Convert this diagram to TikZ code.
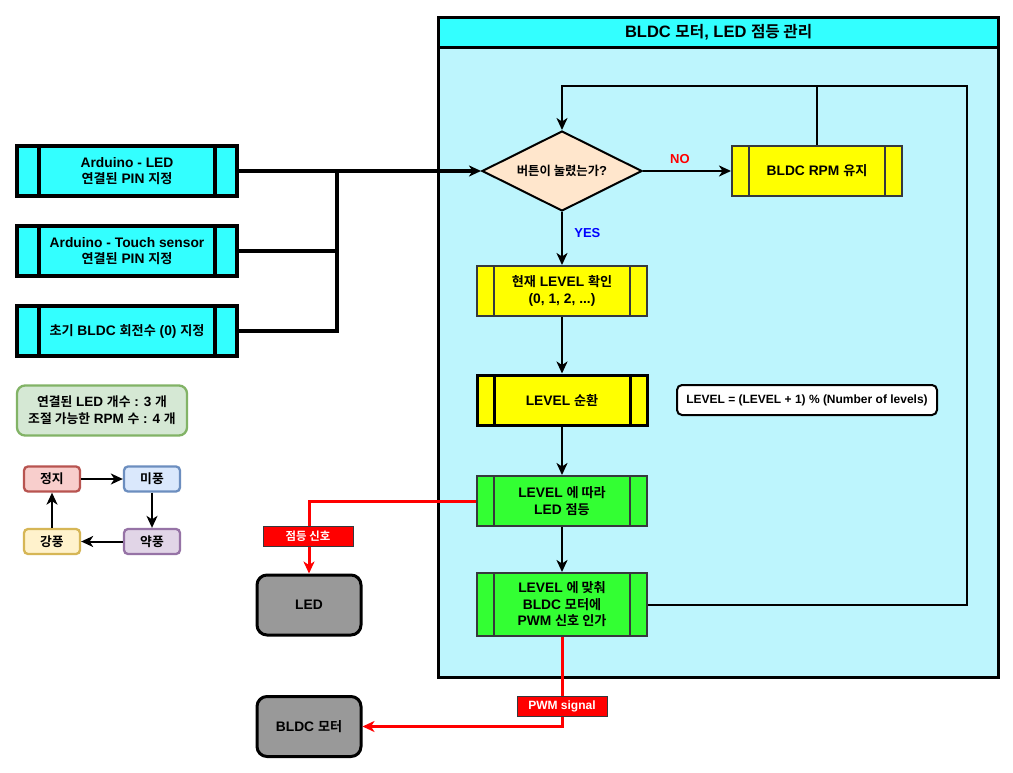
\documentclass[tikz,border=0pt]{standalone}
\usepackage{fontspec}
\setmainfont{Liberation Sans}
\newfontfamily\kr[Scale=0.95,BoldFont={Noto Sans CJK KR Bold}]{Noto Sans CJK KR}
\usetikzlibrary{arrows.meta,calc,shapes.geometric}
\newcommand\K[1]{{\kr #1}}
\definecolor{cy}{HTML}{33FFFF}
\definecolor{lcy}{HTML}{BDF5FD}
\definecolor{yel}{HTML}{FFFF00}
\definecolor{grn}{HTML}{33FF33}
\definecolor{peach}{HTML}{FFE6CC}
\definecolor{dgray}{HTML}{36393D}
\definecolor{mgray}{HTML}{999999}
\definecolor{rd}{HTML}{FF0000}
\definecolor{lgf}{HTML}{D5E8D4}\definecolor{lgd}{HTML}{82B366}
\definecolor{rf}{HTML}{F8CECC}\definecolor{rdd}{HTML}{B85450}
\definecolor{bf}{HTML}{DAE8FC}\definecolor{bd}{HTML}{6C8EBF}
\definecolor{pf}{HTML}{E1D5E7}\definecolor{pd}{HTML}{9673A6}
\definecolor{yf}{HTML}{FFF2CC}\definecolor{yd}{HTML}{D6B656}
\newcommand\innerlines[2]{\draw[#1,line width=#2]
 ($(path picture bounding box.north west)!0.1!(path picture bounding box.north east)$) --
 ($(path picture bounding box.south west)!0.1!(path picture bounding box.south east)$)
 ($(path picture bounding box.north west)!0.9!(path picture bounding box.north east)$) --
 ($(path picture bounding box.south west)!0.9!(path picture bounding box.south east)$);}
\tikzset{
 x=1pt, y=-1pt,
 txt/.style={font=\bfseries\fontsize{13.8}{16.5}\selectfont, align=center, inner sep=0pt},
 procbox/.style n args={3}{txt, draw=#2, line width=#3, fill=#1, rectangle,
   path picture={\innerlines{#2}{#3}}},
 cyproc/.style={procbox={cy}{black}{3.3pt}, minimum width=220pt, minimum height=50pt},
 yproc/.style={procbox={yel}{dgray}{2pt}, minimum width=170pt, minimum height=50pt},
 gproc/.style={procbox={grn}{dgray}{2pt}, minimum width=170pt},
 arr/.style={-{Stealth[length=12pt,width=11pt,inset=3.5pt]}},
 flow/.style={line width=2pt, black, arr},
 redline/.style={line width=3pt, rd, arr},
 redlbl/.style={draw=dgray, line width=1pt, fill=rd, text=white, font=\bfseries\fontsize{12}{14}\selectfont, minimum width=90pt, minimum height=20pt, inner sep=0pt},
 devbox/.style={txt, draw=black, line width=3pt, fill=mgray, rounded corners=10pt, minimum width=104pt, minimum height=60pt},
 small/.style 2 args={draw=#2, fill=#1, line width=2.3pt, rounded corners=4pt, minimum width=56pt, minimum height=25pt, inner sep=0pt, font=\bfseries\fontsize{13.5}{15}\selectfont},
}
\begin{document}
\begin{tikzpicture}
\useasboundingbox (0,0) rectangle (1013,773);
\fill[white] (0,0) rectangle (1013,773);
% container
\node[draw=black, line width=3.3pt, fill=lcy, minimum width=560pt, minimum height=660pt, anchor=north west, inner sep=0pt] (cont) at (437,16) {};
\node[draw=black, line width=3.3pt, fill=cy, minimum width=560pt, minimum height=30pt, anchor=north west, inner sep=0pt, font=\bfseries\fontsize{16.5}{18}\selectfont] (title) at (437,16) {BLDC \K{모터}, LED \K{점등 관리}};
% left boxes
\node[cyproc] (a1) at (127,171) {Arduino - LED\\\K{연결된} PIN \K{지정}};
\node[cyproc] (a2) at (127,251) {Arduino - Touch sensor\\\K{연결된} PIN \K{지정}};
\node[cyproc] (a3) at (127,331) {\K{초기} BLDC \K{회전수} (0) \K{지정}};
% flow
\node[diamond, draw=black, line width=2pt, fill=peach, minimum width=160pt, minimum height=80pt, aspect=2, inner sep=0pt, font=\bfseries\fontsize{13}{15}\selectfont] (dia) at (562,171) {\K{버튼이 눌렸는가}?};
\node[yproc] (rpm) at (817,171) {BLDC RPM \K{유지}};
\node[yproc] (cur) at (562,291) {\K{현재} LEVEL \K{확인}\\(0, 1, 2, ...)};
\node[procbox={yel}{black}{3pt}, minimum width=170pt, minimum height=50pt] (cyc) at (562,400) {LEVEL \K{순환}};
\node[draw=black, line width=2pt, fill=white, rounded corners=5pt, minimum width=260pt, minimum height=30pt, inner sep=0pt, font=\bfseries\fontsize{12}{14}\selectfont] (note) at (807,400) {LEVEL = (LEVEL + 1) \% (Number of levels)};
\node[gproc, minimum height=50pt] (g1) at (562,501) {LEVEL \K{에 따라}\\LED \K{점등}};
\node[gproc, minimum height=63pt] (g2) at (562,604.5) {LEVEL \K{에 맞춰}\\BLDC \K{모터에}\\PWM \K{신호 인가}};
% devices
\node[devbox] (led) at (309,605) {LED};
\node[devbox] (bldc) at (309,726.5) {BLDC \K{모터}};
% legend
\node[draw=lgd, fill=lgf, line width=2.3pt, rounded corners=8pt, minimum width=170pt, minimum height=50pt, align=center, inner sep=0pt, font=\bfseries\fontsize{13.5}{17}\selectfont] (leg) at (102,410.5) {\K{연결된} LED \K{개수} : 3 \K{개}\\\K{조절 가능한} RPM \K{수} : 4 \K{개}};
\node[small={rf}{rdd}] (s1) at (52,479) {\K{정지}};
\node[small={bf}{bd}] (s2) at (152,479) {\K{미풍}};
\node[small={pf}{pd}] (s3) at (152,541.5) {\K{약풍}};
\node[small={yf}{yd}] (s4) at (52,541.5) {\K{강풍}};
\draw[flow] (s1.east) -- (s2.west);
\draw[flow] (s2.south) -- (s3.north);
\draw[flow] (s3.west) -- (s4.east);
\draw[flow] (s4.north) -- (s1.south);
% left connectors
\coordinate (j) at (337,171);
\draw[line width=3.3pt, arr] (a1.east) -- (dia.west);
\draw[line width=3.3pt] (a2.east) -| (j);
\draw[line width=3.3pt] (a3.east) -| (j);
% flow connectors
\draw[flow] (dia.east) -- node[pos=0.42, above=3pt, text=rd, font=\bfseries\fontsize{13}{15}\selectfont]{NO} (rpm.west);
\draw[flow] (dia.south) -- node[pos=0.4, right=8pt, text=blue, font=\bfseries\fontsize{13}{15}\selectfont]{YES} (cur.north);
\draw[flow] (cur.south) -- (cyc.north);
\draw[flow] (cyc.south) -- (g1.north);
\draw[flow] (g1.south) -- (g2.north);
\coordinate (tr) at (967,86);
\coordinate (tm) at (817,86);
\draw[flow] (g2.east) -| (tr) -| (dia.north);
\draw[line width=2pt] (rpm.north) -- (tm);
% red connectors
\draw[redline] (g1.west) -| (led.north);
\node[redlbl] (l1) at (308,536) {\K{점등 신호}};
\draw[redline] (g2.south) |- (bldc.east);
\node[redlbl] (l2) at (562,706) {PWM signal};
\end{tikzpicture}
\end{document}
